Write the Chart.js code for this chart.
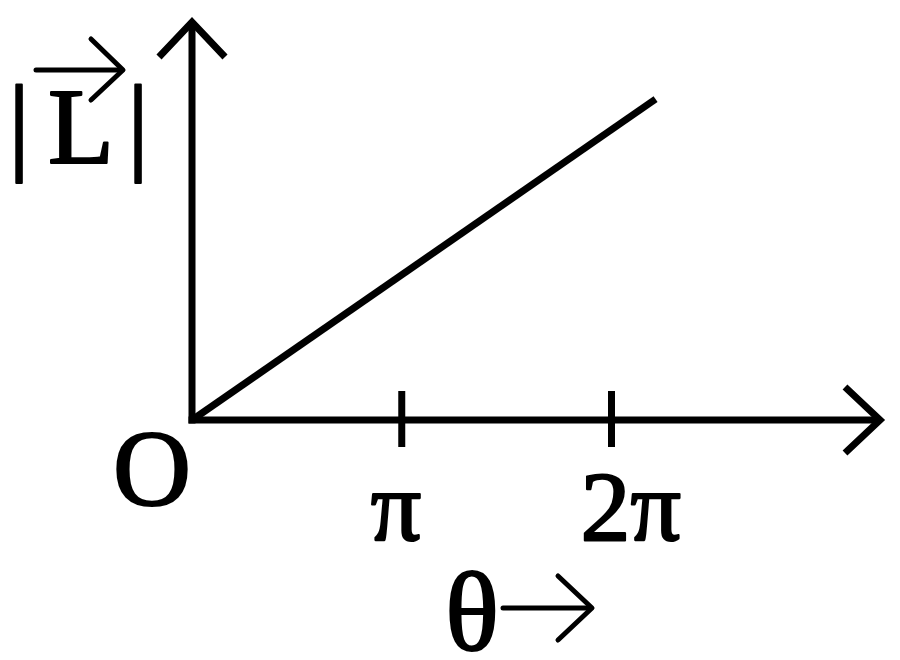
<!DOCTYPE html>
<html>
<head>
<meta charset="utf-8">
<script src="https://cdn.jsdelivr.net/npm/chart.js@4/dist/chart.umd.min.js"></script>
<style>
  html, body { margin: 0; padding: 0; background: #fff; }
  canvas { display: block; }
</style>
</head>
<body>
<canvas id="c" width="900" height="660"></canvas>
<script>
// ---- data (theta in units of pi, |L| in arbitrary units) ----
const thetaValues = [0, 2.21];
const LValues = [0, 1];
const xTickValues = [1, 2];
const xTickLabels = ['π', '2π'];
const originLabel = 'O';
const xAxisLabel = 'θ';
const yAxisLabel = 'L';
const xMax = 3.28;
const yMax = 1.24;

function seg(ctx, pts, w) {
  ctx.lineWidth = w;
  ctx.beginPath();
  ctx.moveTo(pts[0][0], pts[0][1]);
  for (let i = 1; i < pts.length; i++) ctx.lineTo(pts[i][0], pts[i][1]);
  ctx.stroke();
}

function txt(ctx, s, x, y) {
  ctx.lineWidth = 2.2;
  ctx.fillText(s, x, y);
  ctx.strokeText(s, x, y);
}

const axesPlugin = {
  id: 'axesPlugin',
  afterDraw(chart) {
    const { ctx, chartArea: a, scales: { x, y } } = chart;
    const x0 = x.getPixelForValue(0);
    const y0 = y.getPixelForValue(0);
    ctx.save();
    ctx.strokeStyle = '#000';
    ctx.fillStyle = '#000';
    ctx.lineCap = 'butt';
    ctx.lineJoin = 'miter';
    // y axis with arrow
    seg(ctx, [[x0, y0 + 3.5], [x0, a.top]], 7);
    seg(ctx, [[x0 - 33, a.top + 35], [x0, a.top], [x0 + 33, a.top + 35]], 7);
    // x axis with arrow
    seg(ctx, [[x0 - 3.5, y0], [a.right, y0]], 7);
    seg(ctx, [[a.right - 35, y0 - 33], [a.right, y0], [a.right - 35, y0 + 33]], 7);
    // ticks and tick labels
    ctx.textBaseline = 'alphabetic';
    ctx.textAlign = 'left';
    ctx.lineJoin = 'round';
    ctx.font = '100px "Liberation Serif"';
    xTickValues.forEach((v, i) => {
      const px = x.getPixelForValue(v);
      ctx.lineJoin = 'miter';
      seg(ctx, [[px, y0 - 29], [px, y0 + 27]], 7);
      ctx.lineJoin = 'round';
      txt(ctx, xTickLabels[i], px - 31, 540);
    });
    ctx.textAlign = 'center';
    // origin label
    ctx.font = '108px "Liberation Serif"';
    txt(ctx, originLabel, x0 - 40, 505);
    // x axis title: theta ->
    ctx.font = '112px "Liberation Serif"';
    txt(ctx, xAxisLabel, 472, 650);
    ctx.lineCap = 'round';
    seg(ctx, [[503, 608], [590, 608]], 5);
    seg(ctx, [[558, 576], [592, 608], [558, 640]], 5);
    // y axis title: |L| with vector arrow
    ctx.font = '108px "Liberation Serif"';
    txt(ctx, yAxisLabel, 81, 163);
    txt(ctx, '|', 19, 160);
    txt(ctx, '|', 138, 160);
    seg(ctx, [[36, 70], [122, 70]], 5);
    seg(ctx, [[91, 39], [123, 70], [91, 100]], 5);
    ctx.restore();
  }
};

new Chart(document.getElementById('c'), {
  type: 'scatter',
  data: {
    datasets: [{
      data: thetaValues.map((t, i) => ({ x: t, y: LValues[i] })),
      showLine: true,
      borderColor: '#000',
      borderWidth: 7,
      borderCapStyle: 'butt',
      pointRadius: 0,
      clip: false
    }]
  },
  options: {
    responsive: false,
    animation: false,
    layout: { padding: { left: 192, top: 22, right: 20, bottom: 240 } },
    plugins: { legend: { display: false }, tooltip: { enabled: false } },
    scales: {
      x: { type: 'linear', display: false, min: 0, max: xMax },
      y: { type: 'linear', display: false, min: 0, max: yMax }
    }
  },
  plugins: [axesPlugin]
});
</script>
</body>
</html>
